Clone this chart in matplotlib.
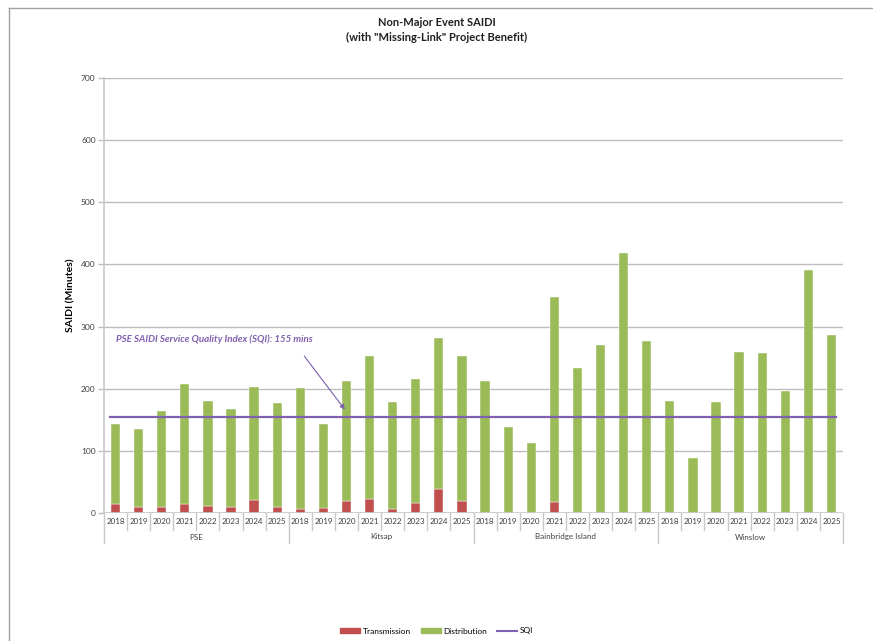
import matplotlib
matplotlib.use("Agg")
import matplotlib.pyplot as plt
from matplotlib.lines import Line2D
from matplotlib.patches import Rectangle
import numpy as np

plt.rcParams['font.family'] = ['Lato', 'DejaVu Sans']

regions = ["PSE", "Kitsap", "Bainbridge Island", "Winslow"]
years = ["2018", "2019", "2020", "2021", "2022", "2023", "2024", "2025"]

total_pse = [144, 135, 164, 207, 181, 167, 203, 177]
trans_pse = [14, 9, 10, 15, 11, 9, 21, 10]
total_kitsap = [201, 143, 212, 252, 179, 216, 281, 253]
trans_kitsap = [6, 8, 20, 23, 7, 16, 38, 19]
total_bainbridge = [212, 138, 112, 347, 234, 271, 419, 276]
trans_bainbridge = [0, 0, 0, 17, 0, 0, 0, 0]
total_winslow = [181, 89, 178, 259, 258, 196, 391, 287]
trans_winslow = [0, 0, 0, 0, 0, 0, 0, 0]

sqi = 155
yticks = [0, 100, 200, 300, 400, 500, 600, 700]

totals = np.array(total_pse + total_kitsap + total_bainbridge + total_winslow, float)
trans = np.array(trans_pse + trans_kitsap + trans_bainbridge + trans_winslow, float)
dist = totals - trans
n = len(totals)
x = np.arange(n)

RED = '#C0504D'
GREEN = '#9BBB59'
PURPLE = '#7F5FB0'

fig = plt.figure(figsize=(8.73, 6.41), dpi=100)
# figure border (top and left)
fig.add_artist(Line2D([9/873, 9/873], [0, 1 - 8/641], color='#a0a0a0', lw=1.0))
fig.add_artist(Line2D([9/873, 1], [1 - 8/641, 1 - 8/641], color='#a0a0a0', lw=1.0))

ax = fig.add_axes([104/873, 1 - 513/641, (843 - 104)/873, (513 - 78)/641])
ax.set_xlim(-0.5, n - 0.5)
ax.set_ylim(0, 700)

ax.bar(x, trans, width=0.4, color=RED, edgecolor='white', linewidth=0.3, zorder=3, label='Transmission')
ax.bar(x, dist, bottom=trans, width=0.4, color=GREEN, edgecolor='white', linewidth=0.3, zorder=3, label='Distribution')
ax.plot([x[0] - 0.25, x[-1] + 0.2], [sqi, sqi], color=PURPLE, lw=1.6, zorder=4, label='SQI')

ax.set_yticks(yticks)
ax.set_yticklabels([str(v) for v in yticks], fontsize=6, color='#404040')
ax.yaxis.grid(True, color='#bdbdbd', lw=1.0, zorder=0)
ax.tick_params(axis='y', length=4, color='#bdbdbd', width=1.0, pad=2)
ax.set_xticks([])
for s in ['top', 'right', 'bottom']:
    ax.spines[s].set_visible(False)
ax.spines['left'].set_color('#c8c8c8')
ax.spines['left'].set_linewidth(1.2)
ax.spines['left'].set_bounds(0, 700)

ax.set_ylabel('SAIDI (Minutes)', fontsize=7.5, fontweight='bold', labelpad=4)

# category axis (two-level)
ax.axhline(0, color='#c8c8c8', lw=1.2, zorder=5)
trans_ax = ax.get_xaxis_transform()
pix = 1.0 / (513 - 78)  # axes fraction per pixel
for i in range(n):
    ax.text(x[i], -9 * pix, years[i % 8], transform=trans_ax, ha='center', va='center', fontsize=5.8, color='#404040')
for i in range(n + 1):
    long = (i % 8 == 0)
    y1 = -30 * pix if long else -17 * pix
    ax.add_line(Line2D([i - 0.5, i - 0.5], [0, y1], transform=trans_ax, color='#c8c8c8', lw=1.0, clip_on=False))
for g, name in enumerate(regions):
    ax.text(g * 8 + 3.5, -24 * pix, name, transform=trans_ax, ha='center', va='center', fontsize=5.8, color='#404040')

# annotation
ax.annotate('', xy=(10.0, 163), xytext=(8.1, 256),
            arrowprops=dict(arrowstyle='-|>', color=PURPLE, lw=0.8, mutation_scale=7))
ax.text(0.0, 279, 'PSE SAIDI Service Quality Index (SQI): 155 mins', fontsize=7, fontweight='bold',
        fontstyle='italic', color=PURPLE, ha='left', va='center')

fig.text(0.5, 1 - 22/641, 'Non-Major Event SAIDI', ha='center', va='center', fontsize=8, fontweight='bold', color='#202020')
fig.text(0.5, 1 - 37/641, '(with "Missing-Link" Project Benefit)', ha='center', va='center', fontsize=8, fontweight='bold', color='#202020')

handles = [Rectangle((0, 0), 1, 1, color=RED), Rectangle((0, 0), 1, 1, color=GREEN),
           Line2D([0], [0], color=PURPLE, lw=1.5)]
fig.legend(handles, ['Transmission', 'Distribution', 'SQI'], loc='center', bbox_to_anchor=(0.5, 1 - 631/641),
           ncol=3, frameon=False, fontsize=6, handlelength=2.4, handleheight=0.5, columnspacing=1.2, handletextpad=0.3)

fig.savefig('out.png', dpi=100)
